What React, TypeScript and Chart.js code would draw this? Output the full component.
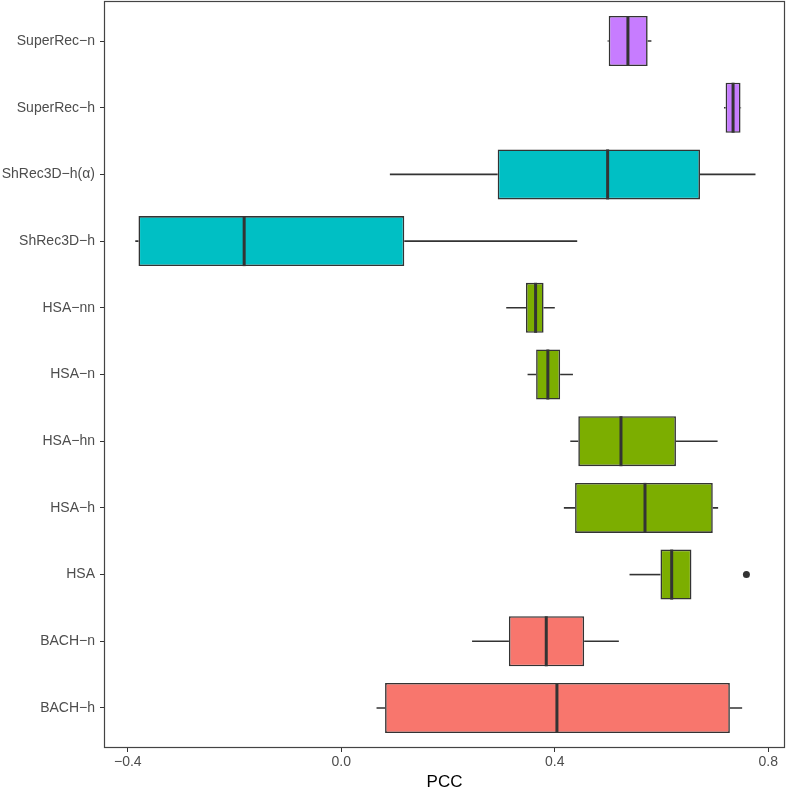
import React, { useEffect, useRef } from "react";
import { Chart, registerables } from "chart.js";

Chart.register(...registerables);

// Categories, top to bottom
const categories = [
  "SuperRec\u2212n",
  "SuperRec\u2212h",
  "ShRec3D\u2212h(\u03b1)",
  "ShRec3D\u2212h",
  "HSA\u2212nn",
  "HSA\u2212n",
  "HSA\u2212hn",
  "HSA\u2212h",
  "HSA",
  "BACH\u2212n",
  "BACH\u2212h",
];

const whiskerLow = [0.499, 0.717, 0.091, -0.386, 0.309, 0.349, 0.429, 0.417, 0.540, 0.245, 0.066];
const q1 = [0.501, 0.720, 0.293, -0.380, 0.346, 0.365, 0.444, 0.438, 0.598, 0.314, 0.082];
const median = [0.537, 0.734, 0.499, -0.182, 0.364, 0.387, 0.524, 0.569, 0.619, 0.384, 0.404];
const q3 = [0.574, 0.748, 0.672, 0.118, 0.379, 0.410, 0.627, 0.696, 0.656, 0.455, 0.728];
const whiskerHigh = [0.581, 0.749, 0.776, 0.442, 0.400, 0.434, 0.705, 0.706, 0.656, 0.520, 0.751];

const outlierCategory = ["HSA"];
const outlierValue = [0.759];

const groupColors = [
  "#C77CFF",
  "#C77CFF",
  "#00BFC4",
  "#00BFC4",
  "#7CAE00",
  "#7CAE00",
  "#7CAE00",
  "#7CAE00",
  "#7CAE00",
  "#F8766D",
  "#F8766D",
];

const xTicks = [-0.4, 0.0, 0.4, 0.8];
const xMin = -0.4446;
const xMax = 0.8313;

const FONT = "'Liberation Sans', Arial, Helvetica, sans-serif";
const INK = "#333333";

const n = categories.length;
const posOf = (i: number) => n - i; // top category at highest position

export default function App() {
  const ref = useRef<HTMLCanvasElement | null>(null);

  useEffect(() => {
    document.body.style.margin = "0";
    const canvas = ref.current;
    if (!canvas) return;

    const boxPlugin = {
      id: "boxParts",
      beforeDatasetsDraw(chart: any) {
        const { ctx } = chart;
        const xs = chart.scales.x;
        const ys = chart.scales.y;
        ctx.save();
        ctx.strokeStyle = INK;
        ctx.lineWidth = 1.6;
        for (let i = 0; i < n; i++) {
          const y = ys.getPixelForValue(posOf(i));
          ctx.beginPath();
          ctx.moveTo(xs.getPixelForValue(whiskerLow[i]), y);
          ctx.lineTo(xs.getPixelForValue(q1[i]), y);
          ctx.moveTo(xs.getPixelForValue(q3[i]), y);
          ctx.lineTo(xs.getPixelForValue(whiskerHigh[i]), y);
          ctx.stroke();
        }
        ctx.restore();
      },
      afterDatasetsDraw(chart: any) {
        const { ctx } = chart;
        const xs = chart.scales.x;
        const meta = chart.getDatasetMeta(0);
        ctx.save();
        ctx.strokeStyle = INK;
        ctx.lineWidth = 3;
        for (let i = 0; i < n; i++) {
          const el: any = meta.data[i];
          if (!el) continue;
          const x = xs.getPixelForValue(median[i]);
          ctx.beginPath();
          ctx.moveTo(x, el.y - el.height / 2);
          ctx.lineTo(x, el.y + el.height / 2);
          ctx.stroke();
        }
        const a = chart.chartArea;
        ctx.lineWidth = 1.2;
        ctx.strokeStyle = "#444444";
        ctx.strokeRect(a.left + 0.5, a.top + 0.5, a.right - a.left - 1, a.bottom - a.top - 1);
        ctx.restore();
      },
    };

    const chart = new Chart(canvas, {
      type: "bar",
      data: {
        datasets: [
          {
            type: "bar",
            data: categories.map((_, i) => ({ x: [q1[i], q3[i]], y: posOf(i) })) as any,
            backgroundColor: groupColors,
            borderColor: INK,
            borderWidth: 1.6,
            borderSkipped: false,
            barPercentage: 0.75,
            categoryPercentage: 1,
          } as any,
          {
            type: "scatter",
            data: outlierCategory.map((c, k) => ({
              x: outlierValue[k],
              y: posOf(categories.indexOf(c)),
            })) as any,
            backgroundColor: INK,
            borderColor: INK,
            pointRadius: 3.5,
            pointBorderWidth: 0,
          } as any,
        ],
      },
      options: {
        indexAxis: "y",
        animation: false,
        responsive: false,
        devicePixelRatio: 1,
        layout: { autoPadding: false, padding: { top: 1, right: 2, left: 0, bottom: 0 } },
        plugins: {
          legend: { display: false },
          tooltip: { enabled: false },
        },
        scales: {
          x: {
            type: "linear",
            offset: false,
            min: xMin,
            max: xMax,
            afterBuildTicks: (s: any) => {
              s.ticks = xTicks.map((v) => ({ value: v }));
            },
            afterFit: (s: any) => {
              s.height = 40;
              s.paddingLeft = 0;
              s.paddingRight = 0;
            },
            grid: {
              display: true,
              offset: false,
              drawOnChartArea: false,
              drawTicks: true,
              tickLength: 4,
              tickColor: INK,
              tickWidth: 1,
            },
            border: { display: false },
            ticks: {
              color: "#4D4D4D",
              font: { family: FONT, size: 14 },
              padding: 2,
              maxRotation: 0,
              autoSkip: false,
              callback: (v: any) => {
                const num = Number(v);
                const s = Math.abs(num).toFixed(1);
                return num < 0 ? "\u2212" + s : s;
              },
            },
            title: {
              display: true,
              text: "PCC",
              color: "#000000",
              font: { family: FONT, size: 17, lineHeight: 0.7 },
              padding: { top: 0, bottom: 0 },
            },
          },
          y: {
            type: "linear",
            offset: false,
            min: 0.4,
            max: n + 0.6,
            afterBuildTicks: (s: any) => {
              s.ticks = categories.map((_, i) => ({ value: posOf(i) }));
            },
            afterFit: (s: any) => {
              s.width = 104;
              s.paddingTop = 0;
              s.paddingBottom = 0;
            },
            grid: {
              display: true,
              offset: false,
              drawOnChartArea: false,
              drawTicks: true,
              tickLength: 4,
              tickColor: INK,
              tickWidth: 1,
            },
            border: { display: false },
            ticks: {
              color: "#4D4D4D",
              font: { family: FONT, size: 14 },
              padding: 5,
              autoSkip: false,
              callback: (v: any) => categories[n - Number(v)] ?? "",
            },
          },
        },
      },
      plugins: [boxPlugin],
    } as any);

    return () => chart.destroy();
  }, []);

  return (
    <div style={{ width: 787, height: 788 }}>
      <canvas ref={ref} width={787} height={788} style={{ display: "block" }} />
    </div>
  );
}
